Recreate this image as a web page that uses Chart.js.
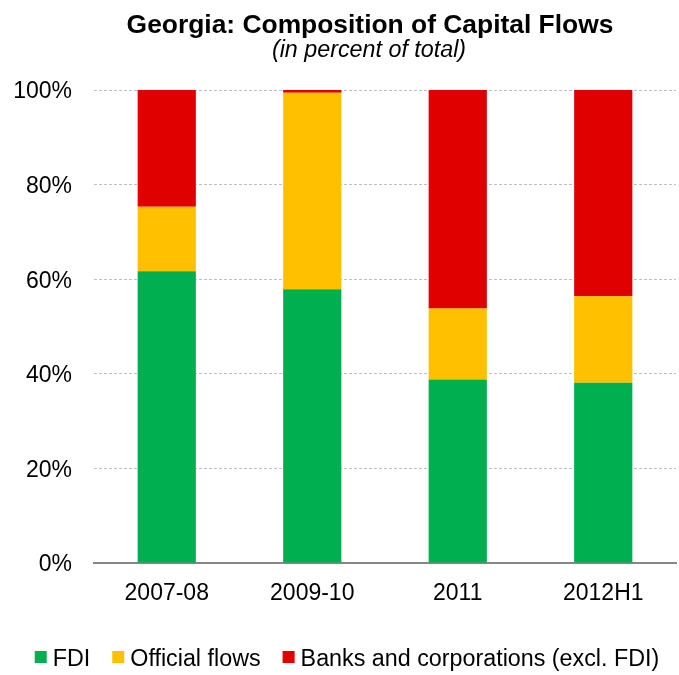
<!DOCTYPE html>
<html>
<head>
<meta charset="utf-8">
<title>Georgia: Composition of Capital Flows</title>
<script src="https://cdn.jsdelivr.net/npm/chart.js@4/dist/chart.umd.min.js"></script>
<style>
  html, body { margin: 0; padding: 0; background: #ffffff; }
  #wrap { width: 679px; height: 675px; position: relative; }
</style>
</head>
<body>
<div id="wrap"><canvas id="chart" width="679" height="675"></canvas></div>
<script>
// Periods on the horizontal axis
const categories = ['2007-08', '2009-10', '2011', '2012H1'];

// Shares of total capital inflows, percent
const fdi = [61.7, 57.9, 38.8, 38.1];
const officialFlows = [13.6, 41.5, 15.0, 18.3];
const banksCorporations = [24.7, 0.6, 46.2, 43.6];

const seriesNames = ['FDI', 'Official flows', 'Banks and corporations (excl. FDI)'];
const seriesColors = ['#00B050', '#FFC000', '#E00000'];

// Y-axis ticks
const yTicks = [0, 20, 40, 60, 80, 100];

const titleText = 'Georgia: Composition of Capital Flows';
const subtitleText = '(in percent of total)';

const FONT = '"Liberation Sans", Arial, sans-serif';

// Draws the heading and the legend row on the canvas
const decorations = {
  id: 'decorations',
  afterDraw(chart) {
    const ctx = chart.ctx;
    ctx.save();
    ctx.fillStyle = '#000000';
    ctx.textAlign = 'center';
    ctx.textBaseline = 'alphabetic';
    ctx.font = 'bold 26.4px ' + FONT;
    ctx.fillText(titleText, 370, 33);
    ctx.font = 'italic 23.3px ' + FONT;
    ctx.fillText(subtitleText, 369, 57);

    // legend
    ctx.font = '23.3px ' + FONT;
    ctx.textAlign = 'left';
    const box = 12, gapText = 6, gapItem = 22;
    const items = chart.data.datasets.map(ds => ({
      label: ds.label, color: ds.backgroundColor,
      w: box + gapText + ctx.measureText(ds.label).width
    }));
    const total = items.reduce((s, it) => s + it.w, 0) + gapItem * (items.length - 1);
    let x = 347 - total / 2;
    items.forEach(it => {
      ctx.fillStyle = it.color;
      ctx.fillRect(x, 651, box, box);
      ctx.fillStyle = '#000000';
      ctx.fillText(it.label, x + box + gapText, 666);
      x += it.w + gapItem;
    });
    ctx.restore();
  }
};

const values = [fdi, officialFlows, banksCorporations];

new Chart(document.getElementById('chart'), {
  type: 'bar',
  data: {
    labels: categories,
    datasets: seriesNames.map((name, i) => ({
      label: name,
      data: values[i],
      backgroundColor: seriesColors[i],
      borderWidth: 0,
      categoryPercentage: 1.0,
      barPercentage: 0.4
    }))
  },
  options: {
    responsive: false,
    animation: false,
    devicePixelRatio: 1,
    layout: { padding: { top: 90, right: 3, bottom: 62, left: 0 } },
    plugins: {
      legend: { display: false },
      title: { display: false },
      tooltip: { enabled: false }
    },
    scales: {
      x: {
        stacked: true,
        grid: { display: false, drawTicks: false },
        border: { display: true, color: '#868686', width: 2 },
        ticks: { color: '#000000', font: { family: FONT, size: 23 }, padding: 17 },
        afterFit(scale) { scale.height = 50; }
      },
      y: {
        stacked: true,
        min: 0,
        max: 100,
        afterBuildTicks(scale) { scale.ticks = yTicks.map(v => ({ value: v })); },
        grid: {
          color: '#BFBFBF',
          lineWidth: 1,
          drawTicks: false
        },
        border: { display: false, dash: [3, 2] },
        ticks: {
          color: '#000000',
          font: { family: FONT, size: 23 },
          padding: 22,
          labelOffset: 2,
          callback: v => v + '%'
        },
        afterFit(scale) { scale.width = 94; }
      }
    }
  },
  plugins: [decorations]
});
</script>
</body>
</html>
